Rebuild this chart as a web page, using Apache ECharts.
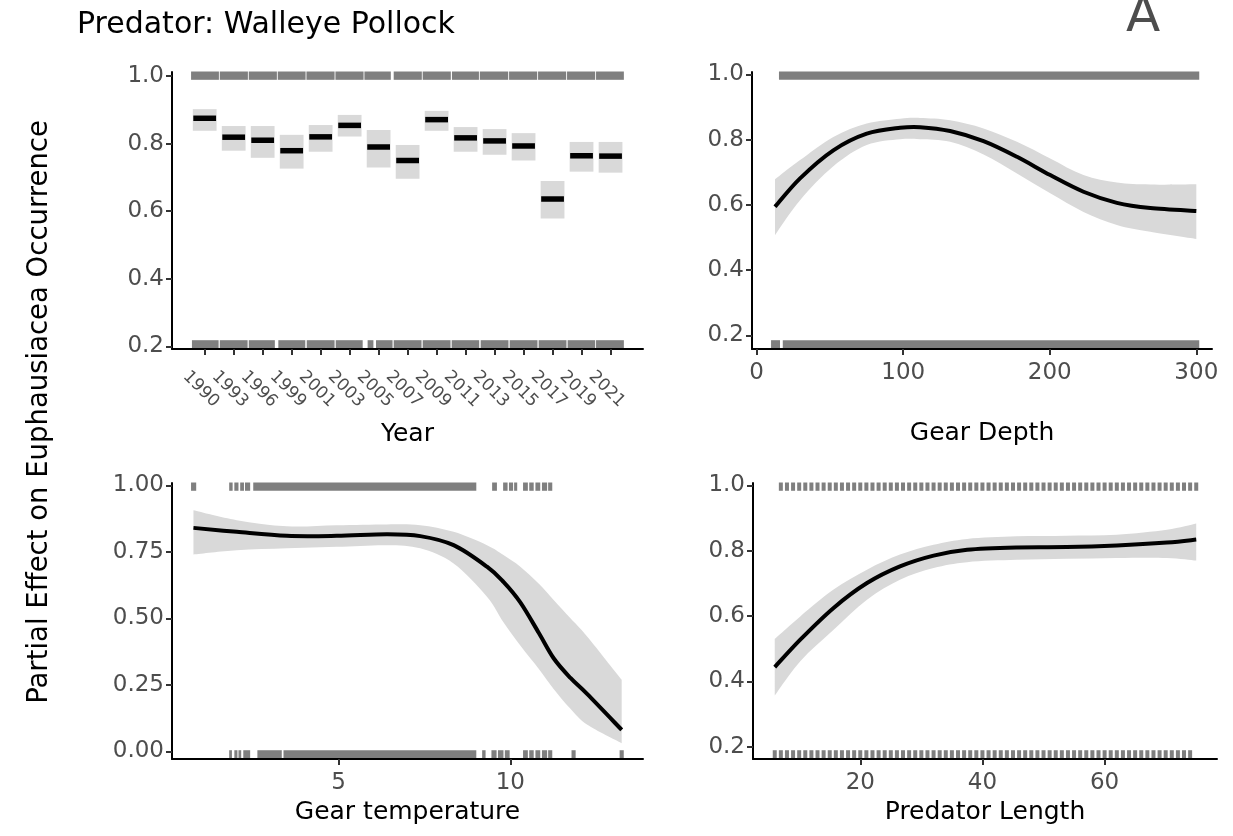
<!DOCTYPE html>
<html><head><meta charset="utf-8">
<script src="https://cdn.jsdelivr.net/npm/echarts@6/dist/echarts.min.js"></script>
<style>html,body{margin:0;padding:0;background:#fff}#c{width:1233px;height:836px}</style>
</head><body><div id="c"></div><script>
// ---------- DATA ----------
const years = ['1990','1993','1996','1999','2001','2003','2005','2007','2009','2011','2013','2015','2017','2019','2021'];
const yearFit   = [0.875,0.819,0.810,0.779,0.820,0.854,0.790,0.750,0.871,0.817,0.808,0.793,0.636,0.764,0.763];
const yearLower = [0.838,0.779,0.758,0.726,0.776,0.821,0.729,0.696,0.838,0.776,0.767,0.750,0.578,0.717,0.714];
const yearUpper = [0.902,0.852,0.852,0.826,0.855,0.885,0.840,0.796,0.897,0.849,0.843,0.831,0.689,0.805,0.805];
const yearRugTop = [[0.53,1.49],[1.52,2.49],[2.52,3.49],[3.52,4.48],[4.51,5.48],[5.51,6.48],[6.51,7.42],[7.52,8.49],[8.52,9.49],[9.53,10.46],[10.49,11.47],[11.50,12.47],[12.50,13.47],[13.50,14.47],[14.50,15.46]];
const yearRugBottom = [[0.56,1.48],[1.52,2.48],[2.52,3.42],[3.54,4.47],[4.52,5.48],[5.52,6.45],[6.62,6.82],[6.91,7.48],[7.52,8.48],[8.52,9.48],[9.52,10.47],[10.52,11.48],[11.52,12.48],[12.52,13.48],[13.52,14.47],[14.50,15.46]];

const depthX     = [12.5, 29.6, 52.3, 75.1, 97.9, 111.5, 132, 154.8, 177.6, 200.3, 223, 245.8, 268.6, 300];
const depthFit   = [0.594,0.681,0.767,0.818,0.836,0.838,0.826,0.795,0.747,0.691,0.640,0.606,0.590,0.581];
const depthUpper = [0.678,0.737,0.808,0.849,0.864,0.866,0.859,0.834,0.793,0.742,0.691,0.668,0.662,0.663];
const depthLower = [0.507,0.614,0.718,0.783,0.801,0.801,0.793,0.754,0.696,0.635,0.578,0.538,0.517,0.495];
const depthRugTop = [[15.2,302]];
const depthRugBottom = [[9.8,15.9],[17.8,302]];

const tempX     = [0.78, 2.04, 3.50, 4.95, 6.41, 7.38, 8.35, 9.32, 9.80, 10.29, 10.83, 11.26, 11.75, 12.24, 13.24];
const tempFit   = [0.840,0.825,0.810,0.810,0.816,0.809,0.775,0.694,0.637,0.560,0.445,0.350,0.276,0.215,0.081];
const tempUpper = [0.906,0.869,0.846,0.850,0.853,0.850,0.825,0.775,0.738,0.694,0.630,0.569,0.500,0.431,0.269];
const tempLower = [0.740,0.756,0.763,0.769,0.775,0.763,0.706,0.581,0.485,0.398,0.310,0.235,0.160,0.100,0.031];
const tempRugTop = [[0.71,0.86],[1.82,1.92],[1.97,2.09],[2.14,2.25],[2.28,2.43],[2.52,9.01],[9.47,9.61],[9.79,9.92],[9.96,10.08],[10.11,10.20],[10.37,10.51],[10.55,10.68],[10.73,10.87],[10.92,11.07],[11.10,11.22]];
const tempRugBottom = [[1.82,1.90],[1.97,2.06],[2.09,2.17],[2.23,2.43],[2.64,3.35],[3.40,9.01],[9.18,9.28],[9.45,9.60],[9.64,9.80],[9.84,9.98],[10.37,10.51],[10.55,10.68],[10.73,10.87],[10.92,11.07],[11.10,11.22],[11.78,11.90],[13.18,13.30]];

const lenX     = [6.0, 10.18, 15.63, 21.1, 26.5, 32.0, 37.5, 45.6, 53.8, 62.0, 70.2, 75.0];
const lenFit   = [0.444,0.528,0.625,0.701,0.752,0.785,0.803,0.810,0.811,0.816,0.825,0.834];
const lenUpper = [0.530,0.599,0.681,0.742,0.788,0.818,0.836,0.844,0.846,0.849,0.864,0.883];
const lenLower = [0.357,0.462,0.558,0.650,0.711,0.747,0.765,0.772,0.775,0.778,0.778,0.770];
const lenRugTop = [7,8,9,10,11,12,13,14,15,16,17,18,19,20,21,22,23,24,25,26,27,28,29,30,31,32,33,34,35,36,37,38,39,40,41,42,43,44,45,46,47,48,49,50,51,52,53,54,55,56,57,58,59,60,61,62,63,64,65,66,67,68,69,70,71,72,73,74,75];
const lenRugBottom = [6,7,8,9,10,11,12,13,14,15,16,17,18,19,20,21,22,23,24,25,26,27,28,29,30,31,32,33,34,35,36,37,38,39,40,41,42,43,44,45,46,47,48,49,50,51,52,53,54,55,56,57,58,59,60,61,62,63,64,65,66,67,68,69,70,71,72,73,74];

const yTicks01 = [0.2,0.4,0.6,0.8,1.0];
const yTicksTemp = [0,0.25,0.5,0.75,1];
const xTicksYear = [1,2,3,4,5,6,7,8,9,10,11,12,13,14,15];
const xTicksDepth = [0,100,200,300];
const xTicksTemp = [5,10];
const xTicksLen = [20,40,60];

// ---------- STYLE ----------
const FONT = 'DejaVu Sans';
const BAND = '#d9d9d9';
const RUG = '#7f7f7f';

function xAx(gi, min, max, ticks, fmt, name, nameGap, labelExtra) {
  return {
    type: 'value', gridIndex: gi, min: min, max: max, name: name,
    nameLocation: 'middle', nameGap: nameGap,
    nameTextStyle: {fontFamily: FONT, fontSize: 25, color: '#000', verticalAlign: 'middle'},
    axisLine: {show: true, onZero: false, lineStyle: {color: '#000', width: 2}},
    axisTick: {show: true, customValues: ticks, length: 6, lineStyle: {color: '#333', width: 2}},
    axisLabel: Object.assign({customValues: ticks, formatter: fmt, color: '#4d4d4d',
      fontFamily: FONT, fontSize: 23, margin: 13}, labelExtra || {}),
    splitLine: {show: false}, z: 5
  };
}
function yAx(gi, min, max, ticks, digits) {
  return {
    type: 'value', gridIndex: gi, min: min, max: max,
    axisLine: {show: true, onZero: false, lineStyle: {color: '#000', width: 2}},
    axisTick: {show: true, customValues: ticks, length: 6, lineStyle: {color: '#333', width: 2}},
    axisLabel: {customValues: ticks, formatter: v => Number(v).toFixed(digits), color: '#4d4d4d',
      fontFamily: FONT, fontSize: 23, margin: 8},
    splitLine: {show: false}, z: 5
  };
}

// cubic (Catmull-Rom) path through pixel points, for smooth rendering
function splinePath(pts, start) {
  let d = start + pts[0][0] + ',' + pts[0][1];
  for (let i = 0; i < pts.length - 1; i++) {
    const p0 = pts[i - 1] || pts[i], p1 = pts[i], p2 = pts[i + 1], p3 = pts[i + 2] || pts[i + 1];
    const c1 = [p1[0] + (p2[0] - p0[0]) / 6, p1[1] + (p2[1] - p0[1]) / 6];
    const c2 = [p2[0] - (p3[0] - p1[0]) / 6, p2[1] - (p3[1] - p1[1]) / 6];
    d += ' C' + c1[0] + ',' + c1[1] + ' ' + c2[0] + ',' + c2[1] + ' ' + p2[0] + ',' + p2[1];
  }
  return d;
}

function rugSeries(gi, items, side, minW) {
  return {
    type: 'custom', xAxisIndex: gi, yAxisIndex: gi, silent: true, z: 3,
    data: items.map(r => Array.isArray(r) ? r : [r, r]),
    encode: {x: [0, 1]},
    renderItem: function (params, api) {
      const cs = params.coordSys;
      const a = api.coord([api.value(0), 0])[0];
      const b = api.coord([api.value(1), 0])[0];
      let x0 = Math.min(a, b), w = Math.abs(b - a);
      if (w < minW) { x0 = (a + b) / 2 - minW / 2; w = minW; }
      const h = cs.height * 0.03;
      const y = side === 'top' ? cs.y - 0.5 : cs.y + cs.height - h - 0.5;
      return {type: 'rect', shape: {x: x0, y: y, width: w, height: h}, style: {fill: RUG}};
    }
  };
}

function smoothSeries(gi, xs, lo, hi, fit) {
  return {
    type: 'custom', xAxisIndex: gi, yAxisIndex: gi, silent: true, z: 2,
    data: xs.map((x, i) => [x, fit[i], lo[i], hi[i]]),
    encode: {x: 0, y: [1, 2, 3]},
    renderItem: function (params, api) {
      if (params.dataIndex !== 0) return null;
      const up = xs.map((x, i) => api.coord([x, hi[i]]));
      const dn = xs.map((x, i) => api.coord([x, lo[i]])).reverse();
      const ft = xs.map((x, i) => api.coord([x, fit[i]]));
      const band = splinePath(up, 'M') + ' ' + splinePath(dn, 'L') + ' Z';
      return {type: 'group', children: [
        {type: 'path', shape: {pathData: band}, style: {fill: BAND, stroke: null}},
        {type: 'path', shape: {pathData: splinePath(ft, 'M')}, z2: 10,
         style: {fill: null, stroke: '#000', lineWidth: 4, lineJoin: 'round'}}
      ]};
    }
  };
}

const yearSeries = {
  type: 'custom', xAxisIndex: 0, yAxisIndex: 0, silent: true, z: 2,
  data: years.map((y, i) => [i + 1, yearFit[i], yearLower[i], yearUpper[i]]),
  encode: {x: 0, y: [1, 2, 3]},
  renderItem: function (params, api) {
    const x = api.value(0);
    const pf = api.coord([x, api.value(1)]);
    const pl = api.coord([x, api.value(2)]);
    const pu = api.coord([x, api.value(3)]);
    const w = api.size([0.82, 0])[0];
    return {type: 'group', children: [
      {type: 'rect', shape: {x: pf[0] - w / 2, y: pu[1], width: w, height: pl[1] - pu[1]}, style: {fill: BAND}},
      {type: 'rect', shape: {x: pf[0] - w / 2 + 0.5, y: pf[1] - 2.75, width: w - 1, height: 5.5}, style: {fill: '#000'}}
    ]};
  }
};

const option = {
  animation: false,
  backgroundColor: '#fff',
  grid: [
    {left: 172, top: 72, width: 471, height: 277},
    {left: 752, top: 72, width: 460, height: 277},
    {left: 172, top: 483, width: 471, height: 276},
    {left: 753, top: 483, width: 464, height: 276}
  ],
  xAxis: [
    xAx(0, -0.128, 16.12, xTicksYear, v => years[Math.round(v) - 1] || '', 'Year', 85,
        {rotate: -45, fontSize: 17, align: 'center', verticalAlign: 'middle', margin: 44, padding: [10.6, 10.6, 0, 0]}),
    xAx(1, -3.2, 310.7, xTicksDepth, v => String(v), 'Gear Depth', 84),
    xAx(2, 0.156, 13.86, xTicksTemp, v => String(v), 'Gear temperature', 53.5),
    xAx(3, 2.44, 78.4, xTicksLen, v => String(v), 'Predator Length', 53)
  ],
  yAxis: [
    yAx(0, 0.192, 1.012, yTicks01, 1),
    yAx(1, 0.158, 1.007, yTicks01, 1),
    yAx(2, -0.0285, 1.0086, yTicksTemp, 2),
    yAx(3, 0.163, 1.007, yTicks01, 1)
  ],
  series: [
    yearSeries,
    rugSeries(0, yearRugTop, 'top', 2),
    rugSeries(0, yearRugBottom, 'bottom', 2),
    smoothSeries(1, depthX, depthLower, depthUpper, depthFit),
    rugSeries(1, depthRugTop, 'top', 2),
    rugSeries(1, depthRugBottom, 'bottom', 2),
    smoothSeries(2, tempX, tempLower, tempUpper, tempFit),
    rugSeries(2, tempRugTop, 'top', 2),
    rugSeries(2, tempRugBottom, 'bottom', 2),
    smoothSeries(3, lenX, lenLower, lenUpper, lenFit),
    rugSeries(3, lenRugTop, 'top', 4),
    rugSeries(3, lenRugBottom, 'bottom', 4)
  ],
  graphic: [
    {type: 'text', x: 77, y: 25, style: {text: 'Predator: Walleye Pollock', fontFamily: FONT, fontSize: 30, fill: '#000', align: 'left', verticalAlign: 'middle'}},
    {type: 'text', x: 1143, y: 18, style: {text: 'A', fontFamily: FONT, fontSize: 50, fill: '#4d4d4d', align: 'center', verticalAlign: 'middle'}},
    {type: 'text', x: 40, y: 412, rotation: Math.PI / 2, style: {text: 'Partial Effect on Euphausiacea Occurrence', fontFamily: FONT, fontSize: 27.5, fill: '#000', align: 'center', verticalAlign: 'middle'}}
  ]
};

const chart = echarts.init(document.getElementById('c'), null, {renderer: 'canvas', width: 1233, height: 836});
chart.setOption(option);
</script></body></html>
